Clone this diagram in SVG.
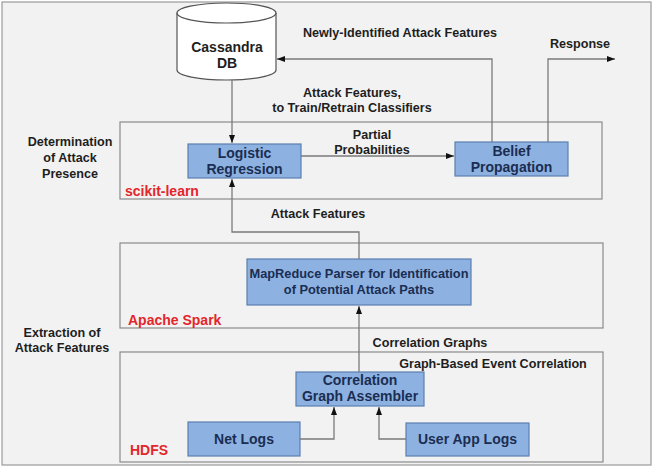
<svg xmlns="http://www.w3.org/2000/svg" width="653" height="468" viewBox="0 0 653 468">
<defs>
<marker id="ah" viewBox="0 0 8 6" refX="8" refY="3" markerWidth="8" markerHeight="6" markerUnits="userSpaceOnUse" orient="auto">
<path d="M0,0 L8,3 L0,6 Z" fill="#111"/>
</marker>
<style>
.lbl{font-family:"Liberation Sans",Arial,sans-serif;font-weight:bold;font-size:12.6px;fill:#1e1e1e;text-anchor:middle}
.red{font-family:"Liberation Sans",Arial,sans-serif;font-weight:bold;font-size:14px;fill:#e3262b}
.bt{font-family:"Liberation Sans",Arial,sans-serif;font-weight:bold;font-size:14px;fill:#1b2d52;text-anchor:middle}
.box{fill:#8db2e1;stroke:#5b7fae;stroke-width:1.2}
.cont{fill:#f2f2f2;stroke:#8a8a8a;stroke-width:1.2}
.con{fill:none;stroke:#7a7a7a;stroke-width:1.3}
</style>
</defs>
<rect x="0" y="0" width="653" height="468" fill="#ffffff"/>
<rect x="2" y="2" width="649" height="463" fill="#f2f2f2" stroke="#9a9a9a" stroke-width="1.2"/>

<g id="containers">
<rect id="determination" class="cont" x="120" y="122" width="482" height="77"/>
<rect id="apache-spark" class="cont" x="120" y="243" width="483" height="85"/>
<rect id="graph-based" class="cont" x="120" y="352" width="483" height="110"/>
</g>

<g id="side-labels">
<text class="lbl"><tspan x="70" y="146">Determination</tspan><tspan x="70" y="162">of Attack</tspan><tspan x="70" y="178">Presence</tspan></text>
<text class="lbl"><tspan x="62" y="337">Extraction of</tspan><tspan x="62" y="352">Attack Features</tspan></text>
<text class="red" x="125" y="196">scikit-learn</text>
<text class="red" x="128" y="325">Apache Spark</text>
<text class="red" x="130" y="455">HDFS</text>
<text class="lbl" x="493" y="368">Graph-Based Event Correlation</text>
</g>

<g id="cassandra">
<path d="M177,13 L177,70 A49.5,10 0 0 0 276,70 L276,13" fill="#ffffff" stroke="#555" stroke-width="1.2"/>
<ellipse cx="226.5" cy="13" rx="49.5" ry="10" fill="#ffffff" stroke="#555" stroke-width="1.2"/>
<text class="bt" style="fill:#1e1e1e"><tspan x="227" y="52">Cassandra</tspan><tspan x="227" y="68">DB</tspan></text>
</g>

<g id="logistic-regression">
<rect class="box" x="188" y="144" width="113" height="34"/>
<text class="bt"><tspan x="244.5" y="158">Logistic</tspan><tspan x="244.5" y="174">Regression</tspan></text>
</g>

<g id="belief-propagation">
<rect class="box" x="455" y="142" width="113" height="34"/>
<text class="bt"><tspan x="511.5" y="156">Belief</tspan><tspan x="511.5" y="172">Propagation</tspan></text>
</g>

<g id="mapreduce">
<rect class="box" x="247" y="259" width="224" height="46"/>
<text class="bt" style="font-size:12.8px"><tspan x="359" y="278">MapReduce Parser for Identification</tspan><tspan x="359" y="294">of Potential Attack Paths</tspan></text>
</g>

<g id="correlation-graph-assembler">
<rect class="box" x="296" y="372" width="128" height="34"/>
<text class="bt"><tspan x="360" y="385">Correlation</tspan><tspan x="360" y="401">Graph Assembler</tspan></text>
</g>

<g id="net-logs">
<rect class="box" x="188" y="422" width="112" height="34"/>
<text class="bt" x="244" y="444">Net Logs</text>
</g>

<g id="user-app-logs">
<rect class="box" x="406" y="423" width="123" height="33"/>
<text class="bt" x="467.5" y="444">User App Logs</text>
</g>

<g id="connectors">
<path class="con" d="M232,80 L232,143" marker-end="url(#ah)"/>
<path class="con" d="M301,156 L454,156" marker-end="url(#ah)"/>
<path class="con" d="M492,142 L492,59 L277,59" marker-end="url(#ah)"/>
<path class="con" d="M548,142 L548,59 L615,59" marker-end="url(#ah)"/>
<path class="con" d="M359,259 L359,232 L232,232 L232,179" marker-end="url(#ah)"/>
<path class="con" d="M359,372 L359,306" marker-end="url(#ah)"/>
<path class="con" d="M300,439 L334,439 L334,407" marker-end="url(#ah)"/>
<path class="con" d="M406,439 L379,439 L379,407" marker-end="url(#ah)"/>
</g>

<g id="connector-labels">
<text class="lbl" x="400" y="37">Newly-Identified Attack Features</text>
<text class="lbl" x="580" y="48">Response</text>
<text class="lbl"><tspan x="352" y="97">Attack Features,</tspan><tspan x="352" y="112">to Train/Retrain Classifiers</tspan></text>
<text class="lbl"><tspan x="372" y="139">Partial</tspan><tspan x="372" y="154">Probabilities</tspan></text>
<text class="lbl" x="318" y="218">Attack Features</text>
<text class="lbl" x="430" y="347">Correlation Graphs</text>
</g>
</svg>
